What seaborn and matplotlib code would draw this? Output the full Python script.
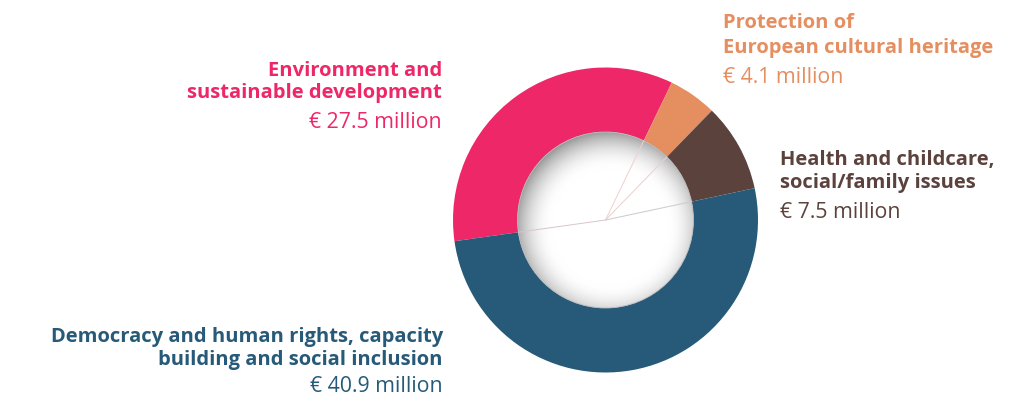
import numpy as np
import matplotlib
matplotlib.use("Agg")
import matplotlib.pyplot as plt
from matplotlib.patches import Circle
import seaborn as sns

# ---- data ----
categories = [
    "Environment and\nsustainable development",
    "Protection of\nEuropean cultural heritage",
    "Health and childcare,\nsocial/family issues",
    "Democracy and human rights, capacity\nbuilding and social inclusion",
]
values = [27.5, 4.1, 7.5, 40.9]
value_labels = ["€ 27.5 million", "€ 4.1 million", "€ 7.5 million", "€ 40.9 million"]
colors = ["#EE2768", "#E58E60", "#5C423D", "#265A78"]

sns.set_theme(style="white")
plt.rcParams["font.family"] = ["Open Sans", "DejaVu Sans"]

W, H = 1022, 403
fig = plt.figure(figsize=(W / 100, H / 100), dpi=100)
ax = fig.add_axes([0, 0, 1, 1])

cx, cy = 605.5, H - 220
r_out, r_in = 152.5, 88
start = 188.0

palette = sns.color_palette(colors)
ax.pie(values, colors=palette, startangle=start, counterclock=False,
       center=(cx, cy), radius=r_out,
       wedgeprops=dict(width=r_out - r_in, linewidth=0))

# inner shaded hole (light from bottom-right, shadow at top-left rim)
n = 400
xs = np.linspace(cx - r_in, cx + r_in, n)
ys = np.linspace(cy - r_in, cy + r_in, n)
X, Y = np.meshgrid(xs, ys)
d = np.hypot(X - (cx + 4), Y - (cy - 7))
shade = np.clip((d - (r_in - 30)) / 38, 0, 1) ** 2.0 * 0.40
img = np.dstack([1 - shade] * 3)
im = ax.imshow(img, extent=[cx - r_in, cx + r_in, cy - r_in, cy + r_in],
               origin="lower", zorder=3, interpolation="bilinear")
clip = Circle((cx, cy), r_in, transform=ax.transData)
im.set_clip_path(clip)
ax.add_patch(Circle((cx, cy), r_in, fill=False, ec="#b8b8bc", lw=0.6, zorder=4))

# thin lines from centre to segment boundaries
total = sum(values)
cum = np.cumsum([0] + values[:-1])
line_cols = ["#d9c4cc", "#f0cfcf", "#e8cfcf", "#cfc8cc"]
for c, lc in zip(cum, line_cols):
    ang = np.deg2rad(start - c / total * 360)
    ax.plot([cx, cx + r_in * np.cos(ang)], [cy, cy + r_in * np.sin(ang)],
            color=lc, lw=0.7, zorder=4)

fs = 14.5
fs_val = 15.3

def label(x, lines_y, val_y, title, val, color, ha):
    for line, yb in zip(title.split("\n"), lines_y):
        ax.text(x, H - yb, line, ha=ha, va="baseline", fontsize=fs,
                fontweight="bold", color=color)
    ax.text(x, H - val_y, val, ha=ha, va="baseline", fontsize=fs_val,
            fontweight="normal", color=color)

label(442, [76, 98], 128, categories[0], value_labels[0], colors[0], "right")
label(723, [28, 53], 83, categories[1], value_labels[1], colors[1], "left")
label(780, [165, 188], 218, categories[2], value_labels[2], colors[2], "left")
label(443, [342, 365], 392, categories[3], value_labels[3], colors[3], "right")

ax.set_xlim(0, W)
ax.set_ylim(0, H)
ax.set_aspect("auto")
ax.axis("off")

fig.savefig("out.png", dpi=100, facecolor="white")
